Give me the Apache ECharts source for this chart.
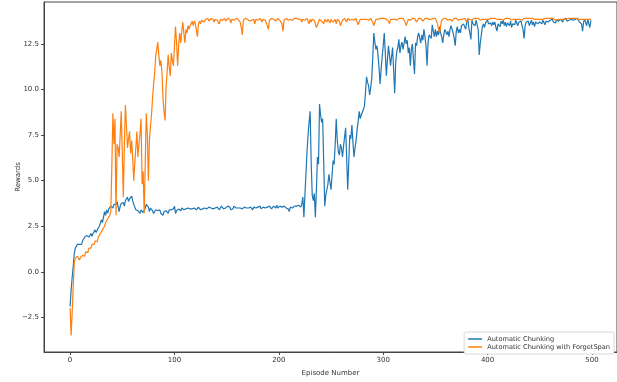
<!DOCTYPE html>
<html>
<head>
<meta charset="utf-8">
<script src="https://cdn.jsdelivr.net/npm/echarts@6/dist/echarts.min.js"></script>
<style>html,body{margin:0;padding:0;background:#fff;}#chart{width:617px;height:382px;}</style>
</head>
<body>
<div id="chart"></div>
<script>
const seriesNames = ['Automatic Chunking', 'Automatic Chunking with ForgetSpan'];
const xTicks = [0, 100, 200, 300, 400, 500];
const yTicks = [-2.5, 0, 2.5, 5, 7.5, 10, 12.5];

const chunking = [
-1.9,-1.0,-0.3,0.3,1.0,1.3,1.4,1.5,1.4,1.5,
1.6,1.5,1.7,1.8,1.9,1.8,2.0,2.05,1.9,2.0,
2.1,1.95,2.1,2.2,2.3,2.15,2.3,2.4,2.5,2.6,
2.85,2.7,3.0,3.3,3.1,3.4,3.2,3.45,3.5,3.6,
3.65,3.5,3.7,3.8,3.7,3.85,3.85,3.3,3.6,3.75,
3.7,3.8,3.6,3.9,3.95,4.1,3.85,4.0,3.9,4.15,
3.9,3.7,3.6,3.4,3.3,3.35,3.25,3.2,3.4,3.3,
3.25,3.35,3.5,3.7,3.6,3.55,3.3,3.5,3.4,3.35,
3.2,3.25,3.4,3.3,3.35,3.3,3.4,3.2,3.15,3.1,
3.3,3.4,3.35,3.3,3.2,3.4,3.35,3.4,3.5,3.45,
3.6,3.2,3.35,3.4,3.45,3.4,3.35,3.5,3.45,3.4,
3.35,3.45,3.4,3.5,3.4,3.45,3.5,3.45,3.4,3.5,
3.45,3.4,3.5,3.55,3.45,3.4,3.5,3.45,3.55,3.5,
3.4,3.45,3.5,3.55,3.45,3.5,3.6,3.45,3.4,3.5,
3.45,3.55,3.5,3.4,3.5,3.6,3.5,3.45,3.55,3.5,
3.45,3.6,3.5,3.55,3.4,3.5,3.45,3.6,3.55,3.5,
3.45,3.5,3.55,3.5,3.6,3.45,3.5,3.55,3.45,3.5,
3.6,3.5,3.45,3.55,3.5,3.4,3.55,3.6,3.5,3.45,
3.55,3.5,3.6,3.45,3.5,3.55,3.65,3.5,3.45,3.55,
3.5,3.6,3.55,3.45,3.5,3.6,3.55,3.5,3.65,3.5,
3.55,3.6,3.5,3.55,3.45,3.6,3.55,3.5,3.6,3.45,
3.3,3.55,3.6,3.5,3.4,3.6,3.55,3.6,3.5,3.65,
3.6,3.55,3.7,4.1,3.0,4.2,5.4,6.6,7.5,8.2,
8.8,6.0,4.2,3.9,4.3,3.0,4.5,6.3,5.9,9.2,
8.6,8.2,8.4,6.0,3.6,4.2,4.5,4.8,5.35,4.9,
4.5,5.3,6.1,5.9,7.0,8.4,7.2,6.6,6.4,7.0,
6.8,6.3,6.9,7.4,7.9,6.2,4.5,6.0,7.5,7.3,
8.05,7.1,6.3,6.8,7.2,7.8,8.25,8.8,8.4,8.6,
8.7,8.9,9.1,9.8,10.7,10.4,10.2,9.7,10.1,10.6,
11.8,13.1,12.6,12.2,12.4,11.9,11.2,10.3,11.1,11.8,
12.4,13.1,12.0,10.75,11.6,12.4,11.9,11.3,11.8,12.3,
12.2,9.8,11.5,12.1,12.3,12.75,12.0,12.4,12.6,12.2,
12.55,12.9,12.5,12.7,12.0,12.3,11.3,12.2,12.5,11.6,
10.85,12.55,12.4,12.9,13.1,12.8,12.55,13.0,12.7,13.3,
12.9,12.4,11.3,12.6,13.0,13.1,12.8,13.55,13.2,12.9,
13.3,12.9,13.2,13.0,13.45,13.1,12.9,12.55,13.0,13.3,
13.3,13.0,13.2,12.9,13.3,13.5,13.45,13.1,12.8,12.4,
13.2,13.45,13.1,13.3,13.1,13.5,13.4,13.6,13.65,13.3,
13.7,13.9,13.4,13.1,12.75,13.8,13.6,13.65,13.5,13.8,
13.7,13.3,11.9,12.55,13.0,13.45,13.6,13.4,13.65,13.7,
13.8,13.6,13.7,13.65,13.5,13.7,13.55,13.7,13.4,13.2,
13.6,13.7,13.45,13.75,13.6,13.8,13.5,13.7,13.45,13.65,
13.7,13.5,13.75,13.4,13.6,13.7,13.55,13.8,13.65,13.5,
13.7,13.6,13.75,13.5,13.3,12.8,13.5,13.7,13.6,13.75,
13.5,13.65,13.8,13.55,13.7,13.45,13.7,13.8,13.6,13.5,
13.7,13.75,13.6,13.8,13.7,13.55,13.75,13.8,13.7,13.6,
13.8,13.75,13.85,13.7,13.8,13.65,13.8,13.85,13.75,13.8,
13.85,13.8,13.7,13.85,13.8,13.9,13.75,13.85,13.8,13.7,
13.85,13.9,13.8,13.75,13.85,13.8,13.9,13.85,13.7,13.8,
13.6,13.2,13.7,13.85,13.8,13.5,13.85,13.75,13.4,13.8
];

const forgetSpan = [
-2.0,-3.5,-2.2,-0.8,0.5,0.75,0.7,0.85,0.8,0.65,
0.8,0.75,0.9,1.0,0.85,1.1,1.2,1.05,1.3,1.4,
1.3,1.5,1.6,1.5,1.7,1.8,1.65,1.9,2.0,2.1,
2.0,2.3,2.2,2.5,2.7,2.6,2.9,3.0,3.1,3.3,
5.8,8.7,7.0,8.4,3.1,7.0,6.8,6.3,7.5,8.8,
6.5,4.1,7.0,9.15,8.0,6.8,7.3,7.7,6.5,7.2,
6.2,5.0,6.0,6.8,7.7,6.3,7.0,7.6,8.4,4.8,
5.5,3.2,6.0,8.7,7.5,5.0,7.2,8.0,8.6,9.5,
10.3,10.9,11.8,12.2,12.6,11.9,11.3,11.6,10.95,9.5,
8.8,8.3,10.2,11.0,11.9,11.2,10.75,12.0,11.6,11.3,
12.4,13.45,12.6,11.3,12.4,13.1,12.55,13.2,13.7,13.1,
12.55,13.3,13.1,13.5,13.3,13.5,13.6,13.75,13.5,13.75,
13.6,13.7,12.9,13.6,13.75,13.6,13.8,13.85,13.7,13.8,
13.85,13.8,13.9,13.75,13.85,13.9,13.8,13.85,13.7,13.85,
13.9,13.8,13.85,13.6,13.85,13.9,13.8,13.85,13.9,13.75,
13.85,13.9,13.8,13.85,13.65,13.85,13.9,13.8,13.85,13.9,
13.8,13.85,13.9,13.7,13.4,13.0,13.8,13.85,13.9,13.8,
13.85,13.9,13.75,13.85,13.8,13.9,13.85,13.6,13.85,13.9,
13.8,13.85,13.9,13.85,13.7,13.85,13.9,13.8,13.85,13.5,
13.3,13.8,13.85,13.9,13.8,13.85,13.9,13.75,13.85,13.9,
13.85,13.8,13.9,13.6,13.2,13.8,13.85,13.9,13.85,13.8,
13.9,13.85,13.9,13.8,13.85,13.9,13.85,13.9,13.8,13.85,
13.9,13.85,13.7,13.85,13.9,13.8,13.85,13.9,13.75,13.6,
13.85,13.7,13.85,13.9,13.8,13.6,13.4,13.3,13.7,13.85,
13.9,13.75,13.85,13.6,13.85,13.9,13.7,13.85,13.8,13.65,
13.85,13.9,13.7,13.8,13.85,13.6,13.85,13.9,13.75,13.5,
13.45,13.8,13.85,13.9,13.85,13.7,13.9,13.85,13.8,13.9,
13.85,13.9,13.8,13.85,13.9,13.7,13.55,13.5,13.85,13.9,
13.85,13.9,13.85,13.9,13.85,13.9,13.8,13.85,13.9,13.85,
13.7,13.5,13.6,13.85,13.9,13.85,13.8,13.9,13.85,13.9,
13.85,13.9,13.8,13.85,13.9,13.75,13.6,13.85,13.9,13.85,
13.9,13.85,13.9,13.8,13.85,13.9,13.85,13.9,13.85,13.9,
13.8,13.7,13.5,13.6,13.85,13.9,13.8,13.85,13.9,13.85,
13.9,13.85,13.7,13.8,13.9,13.85,13.9,13.85,13.75,13.85,
13.9,13.85,13.9,13.8,13.85,13.9,13.85,13.8,13.9,13.85,
13.9,13.85,13.6,13.3,13.1,13.5,13.8,13.85,13.9,13.85,
13.9,13.85,13.8,13.9,13.85,13.9,13.75,13.85,13.9,13.85,
13.9,13.85,13.8,13.9,13.85,13.9,13.85,13.8,13.9,13.85,
13.7,13.85,13.9,13.85,13.9,13.8,13.85,13.9,13.85,13.9,
13.85,13.9,13.85,13.8,13.9,13.85,13.9,13.85,13.9,13.85,
13.9,13.85,13.8,13.9,13.85,13.9,13.85,13.9,13.8,13.85,
13.9,13.85,13.9,13.85,13.9,13.8,13.85,13.9,13.85,13.9,
13.85,13.9,13.85,13.8,13.9,13.85,13.9,13.85,13.9,13.85,
13.9,13.85,13.9,13.8,13.85,13.9,13.85,13.9,13.85,13.9,
13.85,13.9,13.85,13.9,13.8,13.85,13.9,13.85,13.9,13.85,
13.9,13.85,13.9,13.85,13.8,13.9,13.85,13.9,13.85,13.9,
13.85,13.9,13.85,13.9,13.85,13.8,13.9,13.85,13.9,13.85,
13.9,13.85,13.9,13.85,13.9,13.85,13.8,13.9,13.85,13.9,
13.85,13.9,13.85,13.9,13.85,13.9,13.8,13.85,13.9,13.85,
13.9,13.85,13.9,13.85,13.9,13.85,13.9,13.85,13.9,13.85
];

const FONT = 'DejaVu Sans';
const axisColor = '#444';
const chart = echarts.init(document.getElementById('chart'), null, {renderer: 'canvas'});
const toPairs = arr => arr.map((v, i) => [i, v]);

chart.setOption({
  animation: false,
  backgroundColor: '#fff',
  textStyle: {fontFamily: FONT},
  grid: {left: 44, top: 2, width: 574, height: 355, show: true, borderColor: axisColor, borderWidth: 1, backgroundColor: 'transparent'},
  legend: {
    orient: 'vertical', right: 3, bottom: 28,
    icon: 'rect', itemWidth: 14, itemHeight: 1.5, itemGap: 0,
    padding: [3, 4, 3, 4],
    backgroundColor: '#fff', borderColor: '#d8d8d8', borderWidth: 1, borderRadius: 2,
    textStyle: {fontFamily: FONT, fontSize: 6.6, color: '#333', lineHeight: 8},
    data: seriesNames
  },
  xAxis: {
    type: 'value', min: -25, max: 524,
    name: 'Episode Number', nameLocation: 'middle', nameGap: 18, nameMoveOverlap: false,
    nameTextStyle: {fontFamily: FONT, fontSize: 7, color: '#333'},
    axisLine: {show: true, onZero: false, lineStyle: {color: axisColor, width: 1}},
    axisTick: {show: true, length: 3, customValues: xTicks, lineStyle: {color: axisColor}},
    axisLabel: {customValues: xTicks, fontFamily: FONT, fontSize: 7, color: '#333', margin: 5},
    splitLine: {show: false}
  },
  yAxis: {
    type: 'value', min: -4.4, max: 14.8,
    name: 'Rewards', nameLocation: 'middle', nameGap: 22, nameRotate: 90, nameMoveOverlap: false,
    nameTextStyle: {fontFamily: FONT, fontSize: 7, color: '#333'},
    axisLine: {show: true, onZero: false, lineStyle: {color: axisColor, width: 1}},
    axisTick: {show: true, length: 3, customValues: yTicks, lineStyle: {color: axisColor}},
    axisLabel: {customValues: yTicks, fontFamily: FONT, fontSize: 7, color: '#333', margin: 5,
      formatter: v => (v < 0 ? '\u2212' : '') + Math.abs(v).toFixed(1)},
    splitLine: {show: false}
  },
  series: [
    {name: seriesNames[0], type: 'line', data: toPairs(chunking), symbol: 'none',
     lineStyle: {color: '#1f77b4', width: 1.2}, itemStyle: {color: '#1f77b4'}},
    {name: seriesNames[1], type: 'line', data: toPairs(forgetSpan), symbol: 'none',
     lineStyle: {color: '#ff7f0e', width: 1.2}, itemStyle: {color: '#ff7f0e'}}
  ]
});
</script>
</body>
</html>
